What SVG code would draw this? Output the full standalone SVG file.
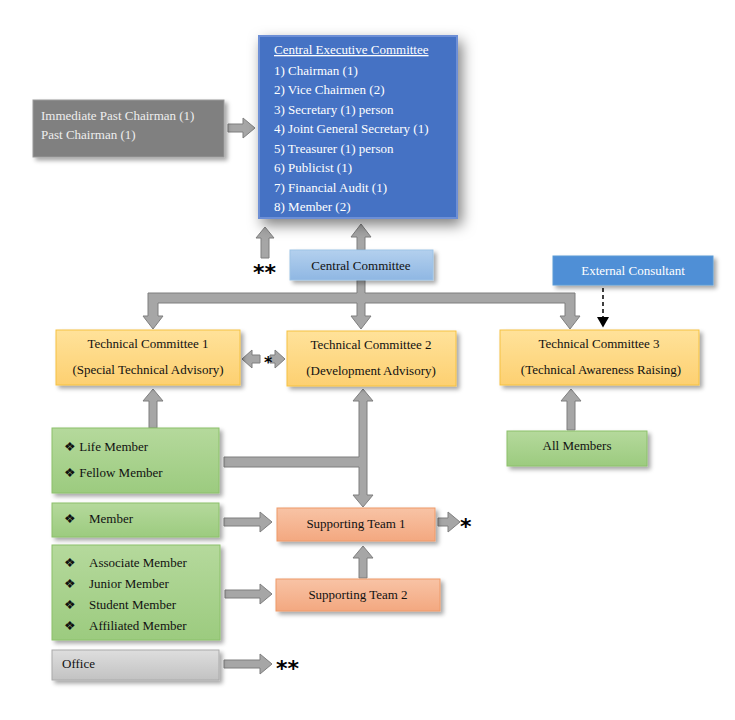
<svg xmlns="http://www.w3.org/2000/svg" width="735" height="720" viewBox="0 0 735 720">
<defs>
<filter id="sh" x="-20%" y="-20%" width="150%" height="160%"><feDropShadow dx="3" dy="3" stdDeviation="2" flood-color="#000" flood-opacity="0.35"/></filter>
<filter id="sh2" x="-20%" y="-20%" width="150%" height="150%"><feDropShadow dx="4" dy="6" stdDeviation="7" flood-color="#000" flood-opacity="0.5"/></filter>
<linearGradient id="gy" x1="0" y1="0" x2="0" y2="1"><stop offset="0" stop-color="#ffe29a"/><stop offset="1" stop-color="#fdd071"/></linearGradient>
<linearGradient id="gg" x1="0" y1="0" x2="0" y2="1"><stop offset="0" stop-color="#b5d99c"/><stop offset="1" stop-color="#9ccb7f"/></linearGradient>
<linearGradient id="go" x1="0" y1="0" x2="0" y2="1"><stop offset="0" stop-color="#f8c3a5"/><stop offset="1" stop-color="#f3a880"/></linearGradient>
<linearGradient id="gb" x1="0" y1="0" x2="0" y2="1"><stop offset="0" stop-color="#b3d0ee"/><stop offset="1" stop-color="#8fb7e3"/></linearGradient>
<linearGradient id="gw" x1="0" y1="0" x2="0" y2="1"><stop offset="0" stop-color="#dedede"/><stop offset="1" stop-color="#c2c2c2"/></linearGradient>
<marker id="ah" markerWidth="8" markerHeight="8" refX="6" refY="4" orient="auto"><path d="M0,0 L7,4 L0,8 z" fill="#000"/></marker>
</defs>
<style>
text{font-family:"Liberation Serif","Times New Roman",serif;font-size:13px;fill:#111}
.w{fill:#fff}
.wl{fill:#eee}
.a{fill:#a6a6a6;stroke:#7f7f7f;stroke-width:1}
.star{font-family:"DejaVu Sans",sans-serif;font-size:22px;font-weight:bold;fill:#000}
</style>
<g id="connectors">
<polygon class="a" points="228,124 243,124 243,118 255,128 243,138 243,132 228,132"/>
<polygon class="a" points="261,258 261,238 256,238 265,227 274,238 269,238 269,258"/>
<polygon class="a" points="357,250 357,237 351,237 361,224 371,237 365,237 365,250"/>
<polygon class="a" points="357,280 357,293 148,293 148,316 143,316 153,329 163,316 158,316 158,303 357,303 357,316 351,316 361,329 371,316 365,316 365,303 565,303 565,316 560,316 570,329 580,316 575,316 575,293 365,293 365,280"/>
<line x1="603" y1="288" x2="603" y2="326" stroke="#000" stroke-width="1.5" stroke-dasharray="4,3" marker-end="url(#ah)"/>
<polygon class="a" points="242,359 252,350 252,355 260,355 260,363 252,363 252,368"/>
<polygon class="a" points="285,359 275,350 275,355 270,355 270,363 275,363 275,368"/>
<polygon class="a" points="149,428 149,401 143,401 153,389 163,401 157,401 157,428"/>
<polygon class="a" points="359,401 353,401 363,389 373,401 367,401 367,495 373,495 363,507 353,495 359,495 359,467 224,467 224,457 359,457"/>
<polygon class="a" points="224,518 260,518 260,512 272,522 260,532 260,526 224,526"/>
<polygon class="a" points="438,518 448,518 448,512 460,522 448,532 448,526 438,526"/>
<polygon class="a" points="359,578 359,558 353,558 363,546 373,558 367,558 367,578"/>
<polygon class="a" points="225,590 260,590 260,584 272,594 260,604 260,598 225,598"/>
<polygon class="a" points="224,660 260,660 260,654 272,664 260,674 260,668 224,668"/>
<polygon class="a" points="567,430 567,401 561,401 571,389 581,401 575,401 575,430"/>
<text x="264" y="368" class="star" style="font-size:16px">*</text>
<text x="460" y="534" class="star">*</text>
<text x="253" y="280" class="star">**</text>
<text x="276" y="676" class="star">**</text>
</g>
<g id="cec">
<rect x="259" y="36" width="198" height="182" fill="#4472c4" stroke="#6d8fd6" stroke-width="2" filter="url(#sh2)"/>
<text x="274" y="54" class="w" text-decoration="underline">Central Executive Committee</text>
<text x="274" y="75" class="w">1) Chairman (1)</text>
<text x="274" y="94" class="w">2) Vice Chairmen (2)</text>
<text x="274" y="114" class="w">3) Secretary (1) person</text>
<text x="274" y="133" class="w">4) Joint General Secretary (1)</text>
<text x="274" y="153" class="w">5) Treasurer (1) person</text>
<text x="274" y="172" class="w">6) Publicist (1)</text>
<text x="274" y="192" class="w">7) Financial Audit (1)</text>
<text x="274" y="211" class="w">8) Member (2)</text>
</g>
<g id="past">
<rect x="33" y="100" width="191" height="57" fill="#808080" stroke="#999" filter="url(#sh)"/>
<text x="41" y="120" class="wl">Immediate Past Chairman (1)</text>
<text x="41" y="139" class="wl">Past Chairman (1)</text>
</g>
<g id="cc">
<rect x="290" y="250" width="143" height="30" fill="url(#gb)" stroke="#9dc3e6" filter="url(#sh)"/>
<text x="361" y="270" text-anchor="middle">Central Committee</text>
</g>
<g id="ext">
<rect x="553" y="256" width="160" height="29" fill="#4f8fd6" stroke="#5b9bd5" filter="url(#sh)"/>
<text x="633" y="275" text-anchor="middle" class="w">External Consultant</text>
</g>
<g id="tc1">
<rect x="56" y="330" width="184" height="55" fill="url(#gy)" stroke="#f5c242" filter="url(#sh)"/>
<text x="148" y="348" text-anchor="middle">Technical Committee 1</text>
<text x="148" y="374" text-anchor="middle">(Special Technical Advisory)</text>
</g>
<g id="tc2">
<rect x="287" y="331" width="169" height="55" fill="url(#gy)" stroke="#f5c242" filter="url(#sh)"/>
<text x="371" y="349" text-anchor="middle">Technical Committee 2</text>
<text x="371" y="375" text-anchor="middle">(Development Advisory)</text>
</g>
<g id="tc3">
<rect x="500" y="330" width="199" height="55" fill="url(#gy)" stroke="#f5c242" filter="url(#sh)"/>
<text x="599" y="348" text-anchor="middle">Technical Committee 3</text>
<text x="601" y="374" text-anchor="middle">(Technical Awareness Raising)</text>
</g>
<g id="life">
<rect x="52" y="428" width="167" height="65" fill="url(#gg)" stroke="#8cc06b" filter="url(#sh)"/>
<text x="64" y="451">❖ Life Member</text>
<text x="64" y="477">❖ Fellow Member</text>
</g>
<g id="member">
<rect x="52" y="503" width="167" height="34" fill="url(#gg)" stroke="#8cc06b" filter="url(#sh)"/>
<text x="64" y="523">❖</text><text x="89" y="523">Member</text>
</g>
<g id="assoc">
<rect x="52" y="545" width="168" height="95" fill="url(#gg)" stroke="#8cc06b" filter="url(#sh)"/>
<text x="64" y="567">❖</text><text x="89" y="567">Associate Member</text>
<text x="64" y="588">❖</text><text x="89" y="588">Junior Member</text>
<text x="64" y="609">❖</text><text x="89" y="609">Student Member</text>
<text x="64" y="630">❖</text><text x="89" y="630">Affiliated Member</text>
</g>
<g id="office">
<rect x="52" y="650" width="167" height="30" fill="url(#gw)" stroke="#aaa" filter="url(#sh)"/>
<text x="62" y="668">Office</text>
</g>
<g id="st1">
<rect x="277" y="508" width="158" height="33" fill="url(#go)" stroke="#ee9a68" filter="url(#sh)"/>
<text x="356" y="528" text-anchor="middle">Supporting Team 1</text>
</g>
<g id="st2">
<rect x="276" y="579" width="164" height="32" fill="url(#go)" stroke="#ee9a68" filter="url(#sh)"/>
<text x="358" y="599" text-anchor="middle">Supporting Team 2</text>
</g>
<g id="all">
<rect x="507" y="431" width="140" height="35" fill="url(#gg)" stroke="#8cc06b" filter="url(#sh)"/>
<text x="577" y="450" text-anchor="middle">All Members</text>
</g>
</svg>
